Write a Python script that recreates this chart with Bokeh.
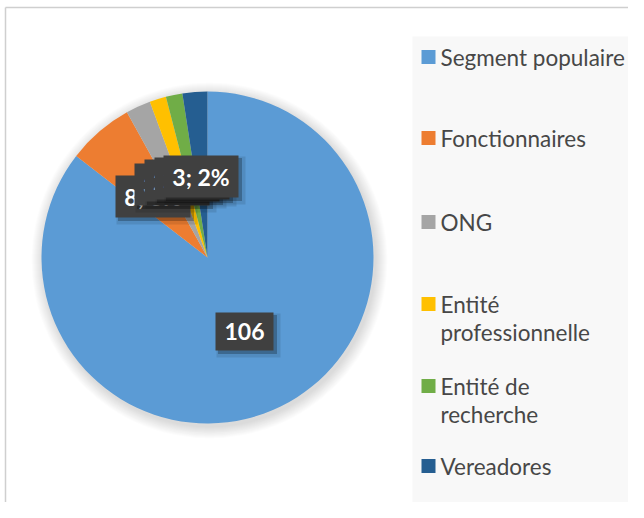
import numpy as np
from bokeh.plotting import figure
from bokeh.models import Range1d
from bokeh.core.properties import value
from bokeh.embed import file_html
from bokeh.resources import INLINE

# ---- data ----
categories = ["Segment populaire", "Fonctionnaires", "ONG",
              "Entité professionnelle", "Entité de recherche", "Vereadores"]
legend_lines = [["Segment populaire"], ["Fonctionnaires"], ["ONG"],
                ["Entité", "professionnelle"], ["Entité de", "recherche"], ["Vereadores"]]
counts = [106, 8, 3, 2, 2, 3]
colors = ["#5B9BD5", "#ED7D31", "#A5A5A5", "#FFC000", "#70AD47", "#255E91"]

# ---- layout (pixel coordinates, y measured downward) ----
W, H = 628, 502
cx, cy, R = 207, 257, 166
label_pos = [(244, 331), (152.5, 196), (171.5, 184), (181.5, 180), (191.5, 178), (200.5, 176)]
label_w = [58, 75, 75, 75, 75, 75]
label_h = [38, 42, 42, 42, 42, 42]
legend_y = [57, 138, 222, 304, 386, 466]
line_gap = 28

p = figure(width=W, height=H, x_range=Range1d(0, W), y_range=Range1d(-H, 0),
           output_backend="svg", toolbar_location=None, min_border=0,
           x_axis_location=None, y_axis_location=None)
p.grid.visible = False
p.outline_line_color = None
p.background_fill_color = "white"
p.border_fill_color = "white"

# chart border
p.segment(x0=[5, 5], y0=[-7, -7], x1=[5, 640], y1=[-520, -7],
          line_color="#cfcfcf", line_width=1.5)

# legend background
p.quad(left=[412], right=[634], top=[-36], bottom=[-520], fill_color="#f8f8f8", line_color=None)

# pie shadow (soft)
for k in range(12):
    p.circle(x=[cx + 2], y=[-(cy + 3)], radius=R + 12 - k, fill_color="black",
             fill_alpha=0.010, line_color=None)

# pie wedges (start at 12 o'clock, clockwise)
total = float(sum(counts))
cum = np.cumsum([0] + counts) / total
starts = [np.pi / 2 - 2 * np.pi * cum[i + 1] for i in range(len(counts))]
ends = [np.pi / 2 - 2 * np.pi * cum[i] for i in range(len(counts))]
p.wedge(x=[cx] * len(counts), y=[-cy] * len(counts), radius=R,
        start_angle=starts, end_angle=ends, fill_color=colors, line_color=None)

# data labels
texts = []
for i, v in enumerate(counts):
    pct = int(round(v / total * 100))
    texts.append(str(v) if i == 0 else f"{v}; {pct}%")

for i in range(len(counts)):
    x, y = label_pos[i]
    w, h = label_w[i], label_h[i]
    p.rect(x=[x + 4], y=[-(y + 4)], width=w + 6, height=h + 6, fill_color="black",
           fill_alpha=0.10, line_color=None)
    p.rect(x=[x + 3], y=[-(y + 3)], width=w + 1, height=h + 1, fill_color="black",
           fill_alpha=0.25, line_color=None)
    p.rect(x=[x], y=[-y], width=w, height=h, fill_color="#404040", line_color=None)
    p.text(x=[x], y=[-y], text=[texts[i]], text_align="center", text_baseline="middle",
           text_color="white", text_font=value("Lato"), text_font_style="bold",
           text_font_size="23px")

# legend
p.rect(x=[428] * len(colors), y=[-(v - 0.5) for v in legend_y], width=14, height=14,
       fill_color=colors, line_color=None)
lx, ly, lt = [], [], []
for i, lines in enumerate(legend_lines):
    for j, s in enumerate(lines):
        lx.append(440)
        ly.append(-(legend_y[i] + j * line_gap))
        lt.append(s)
p.text(x=lx, y=ly, text=lt, text_align="left", text_baseline="middle",
       text_color="#474747", text_font=value("Lato"), text_font_size="22.5px")

open("out.html", "w").write(file_html(p, INLINE))
